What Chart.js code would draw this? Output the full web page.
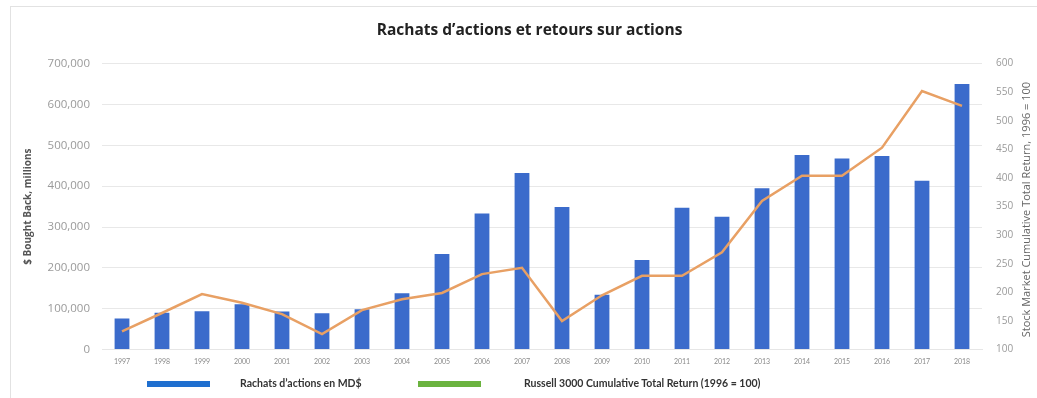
<!DOCTYPE html>
<html>
<head>
<meta charset="utf-8">
<script src="https://cdn.jsdelivr.net/npm/chart.js@4.4.1/dist/chart.umd.min.js"></script>
<style>
  html, body { margin: 0; padding: 0; background: #fff; }
  #wrap { position: relative; width: 1037px; height: 398px; overflow: hidden; }
  #frame { position: absolute; left: 10px; top: 6px; width: 1040px; height: 400px; border: 1px solid #e2e2e2; box-sizing: border-box; }
  canvas { position: absolute; left: 0; top: 0; }
  #legend { position: absolute; left: 0; top: 376px; width: 1037px; height: 16px; font-family: Lato, "Liberation Sans", sans-serif; font-weight: bold; font-size: 10.5px; color: #333; }
  .sw { position: absolute; top: 5px; width: 63px; height: 6px; }
  .tx { position: absolute; top: 1px; white-space: nowrap; }
</style>
</head>
<body>
<div id="wrap">
  <div id="frame"></div>
  <canvas id="c" width="1037" height="398"></canvas>
  <div id="legend"></div>
</div>
<script>
const years = ["1997","1998","1999","2000","2001","2002","2003","2004","2005","2006","2007","2008","2009","2010","2011","2012","2013","2014","2015","2016","2017","2018"];
const buybacks = [76000, 90000, 94000, 111000, 93000, 89000, 99000, 138000, 234000, 333000, 432000, 349000, 134000, 219000, 347000, 325000, 395000, 476000, 468000, 474000, 413000, 650000];
const russell = [132, 164, 197, 182, 162, 127, 169, 188, 199, 232, 243, 150, 195, 229, 229, 270, 360, 404, 404, 453, 552, 526];
const leftTicks = [0, 100000, 200000, 300000, 400000, 500000, 600000, 700000];
const rightTicks = [100, 150, 200, 250, 300, 350, 400, 450, 500, 550, 600];
const titleText = "Rachats d\u2019actions et retours sur actions";
const barLabel = "Rachats d\u2019actions en MD$";
const lineLabel = "Russell 3000 Cumulative Total Return (1996 = 100)";
const leftTitle = "$ Bought Back, millions";
const rightTitle = "Stock Market Cumulative Total Return, 1996 = 100";

const FONT = "Lato, 'Liberation Sans', sans-serif";
const FONT2 = "'Open Sans', 'Liberation Sans', sans-serif";

// right-axis title drawn reading bottom-to-top, like the reference
const rightTitlePlugin = {
  id: 'rightTitle',
  afterDraw(chart) {
    const { ctx, chartArea } = chart;
    ctx.save();
    ctx.translate(1027, (chartArea.top + chartArea.bottom) / 2 + 3);
    ctx.rotate(-Math.PI / 2);
    ctx.font = "11px " + FONT2;
    ctx.fillStyle = '#666';
    ctx.textAlign = 'center';
    ctx.textBaseline = 'middle';
    ctx.fillText(rightTitle, 0, 0);
    ctx.restore();
  }
};

const chart = new Chart(document.getElementById('c'), {
  data: {
    labels: years,
    datasets: [
      { type: 'line', label: lineLabel, data: russell, yAxisID: 'y1', borderColor: '#e8a064', backgroundColor: '#6bb33f', borderWidth: 2.5, pointRadius: 0, tension: 0, order: 0 },
      { type: 'bar', label: barLabel, data: buybacks, yAxisID: 'y', backgroundColor: '#3b6bcb', borderWidth: 0, barPercentage: 0.37, categoryPercentage: 1.0, order: 1 }
    ]
  },
  options: {
    responsive: false,
    animation: false,
    layout: { padding: { left: 22, right: 0, top: 0, bottom: 24 } },
    plugins: {
      legend: { display: false },
      tooltip: { enabled: false },
      title: { display: true, text: titleText, color: '#222', font: { family: FONT2, size: 15.5, weight: 'bold' }, padding: { top: 21, bottom: 24 } }
    },
    scales: {
      x: {
        grid: { display: false, drawTicks: false },
        border: { display: true, color: '#e6e6e6' },
        ticks: { color: '#8a8a8a', font: { family: FONT, size: 7 }, padding: 8, maxRotation: 0, autoSkip: false }
      },
      y: {
        position: 'left', min: 0, max: 700000,
        afterBuildTicks: (s) => { s.ticks = leftTicks.map(v => ({ value: v })); },
        afterFit: (s) => { s.width = 80; },
        grid: { color: '#e8e8e8', drawTicks: false },
        border: { display: false },
        ticks: { color: '#9a9a9a', font: { family: FONT2, size: 11.5 }, padding: 12, callback: (v) => v.toLocaleString('en-US') },
        title: { display: true, text: leftTitle, color: '#555', font: { family: FONT2, size: 10, weight: 'bold' }, padding: { top: 0, bottom: 2 } }
      },
      y1: {
        position: 'right', min: 100, max: 600,
        afterBuildTicks: (s) => { s.ticks = rightTicks.map(v => ({ value: v })); },
        afterFit: (s) => { s.width = 55; },
        grid: { display: false, drawTicks: false },
        border: { display: false },
        ticks: { color: '#9a9a9a', font: { family: FONT2, size: 10 }, padding: 14 }
      }
    }
  },
  plugins: [rightTitlePlugin]
});

// HTML legend built from the datasets
const lg = document.getElementById('legend');
const legendItems = [
  { ds: chart.data.datasets[1], color: '#1f6fcf', sx: 147, tx: 240 },
  { ds: chart.data.datasets[0], color: '#6bb33f', sx: 418, tx: 524 }
];
legendItems.forEach(it => {
  const sw = document.createElement('div'); sw.className = 'sw'; sw.style.left = it.sx + 'px'; sw.style.background = it.color; lg.appendChild(sw);
  const t = document.createElement('div'); t.className = 'tx'; t.style.left = it.tx + 'px'; t.textContent = it.ds.label; lg.appendChild(t);
});
</script>
</body>
</html>
